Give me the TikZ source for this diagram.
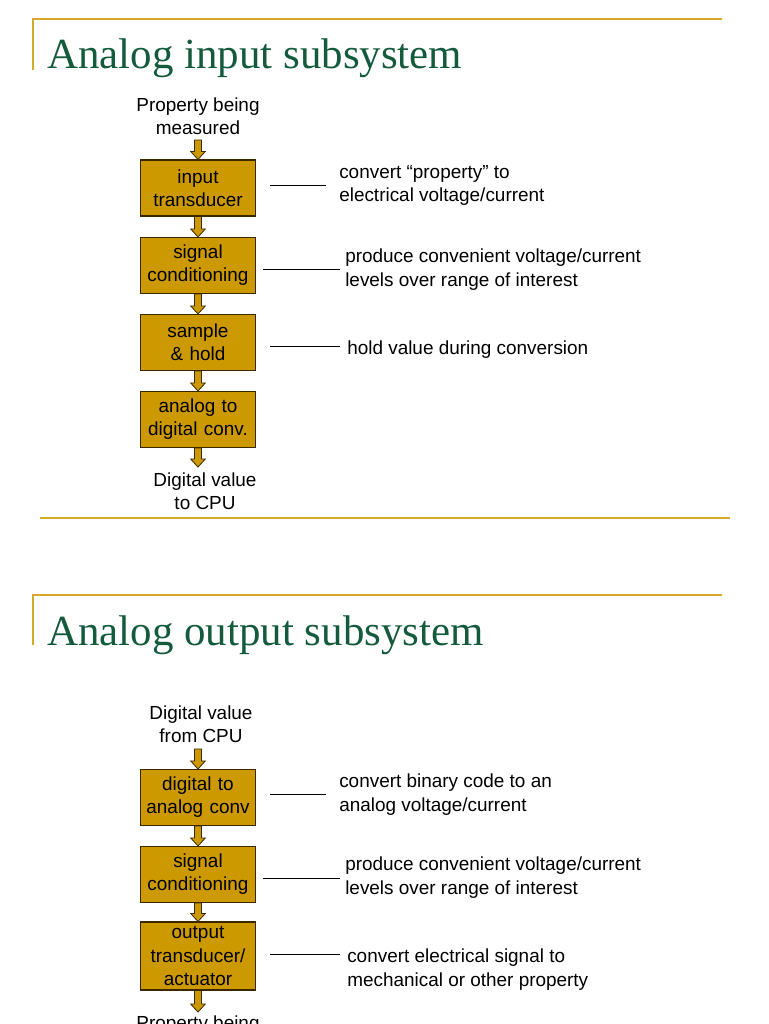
\documentclass[tikz,border=0pt]{standalone}
\usepackage{fontspec}
\setmainfont{Liberation Sans}
\newfontfamily\titlefont{Liberation Serif}
\usetikzlibrary{calc}
\definecolor{gold}{RGB}{204,153,0}
\definecolor{rule}{RGB}{214,170,40}
\definecolor{titlegreen}{RGB}{20,90,60}
\definecolor{edge}{RGB}{60,40,0}
\newcommand{\blockarrow}[2]{%
  \path let \p1=(#1), \p2=(#2) in
    [draw=edge, fill=gold, line width=0.6pt]
    (\x1-2.6pt,\y1) -- (\x1+2.6pt,\y1) -- (\x1+2.6pt,\y2+6pt) -- (\x1+5.5pt,\y2+6pt)
    -- (\x1,\y2) -- (\x1-5.5pt,\y2+6pt) -- (\x1-2.6pt,\y2+6pt) -- cycle;}
\begin{document}
\begin{tikzpicture}[x=0.75pt,y=-0.75pt,
  box/.style={draw=edge, fill=gold, line width=0.8pt, minimum width=86pt, text width=84pt, align=center, font=\fontsize{14.2}{17.3}\selectfont, inner sep=0pt},
  lbl/.style={anchor=north west, align=left, font=\fontsize{14.2}{17.3}\selectfont, inner sep=0pt},
  ctr/.style={align=center, font=\fontsize{14.2}{17.3}\selectfont, inner sep=0pt},
  title/.style={anchor=base west, text=titlegreen, font=\titlefont\fontsize{32.2}{32}\selectfont, inner sep=0pt},
  rl/.style={draw=rule, line width=1.2pt},
  tick/.style={draw=black, line width=0.6pt}]
\useasboundingbox (0,0) rectangle (768,1024);
% frames
\draw[rl] (33,70) -- (33,19) -- (722,19);
\draw[rl] (40,518) -- (730,518);
\draw[rl] (33,645) -- (33,595) -- (722,595);
\node[title] (t1) at (47,69) {Analog input subsystem};
\node[title] (t2) at (47,645) {Analog output subsystem};
% input chain
\node[ctr] (p1) at (198,116) {Property being\\measured};
\coordinate (p1s) at (198,140);
\node[box, minimum height=42pt] (b1) at (198,188) {input\\transducer};
\node[box, minimum height=42pt] (b2) at (198,265.5) {signal\\conditioning};
\node[box, minimum height=42pt] (b3) at (198,342.5) {sample\\\& hold};
\node[box, minimum height=42pt] (b4) at (198,419.5) {analog to\\digital conv.};
\coordinate (d1n) at (198,467);
\node[ctr] (d1) at (205,491) {Digital value\\to CPU};
\blockarrow{p1s}{b1.north}
\blockarrow{b1.south}{b2.north}
\blockarrow{b2.south}{b3.north}
\blockarrow{b3.south}{b4.north}
\blockarrow{b4.south}{d1n}
\coordinate (l1a) at (270,185); \coordinate (l1b) at (326,185);
\coordinate (l2a) at (263,269); \coordinate (l2b) at (340,269);
\coordinate (l3a) at (270,346); \coordinate (l3b) at (340,346);
\draw[tick] (l1a) -- (l1b); \draw[tick] (l2a) -- (l2b); \draw[tick] (l3a) -- (l3b);
\node[lbl] (c1) at (339,165) {convert “property” to\\electrical voltage/current};
\node[lbl] (c2) at (345,249) {produce convenient voltage/current\\levels over range of interest};
\node[lbl] (c3) at (347,341) {hold value during conversion};
% output chain
\node[ctr] (q1) at (201,724) {Digital value\\from CPU};
\coordinate (q1s) at (198,749);
\node[box, minimum height=42pt] (o1) at (198,797.5) {digital to\\analog conv};
\node[box, minimum height=42pt] (o2) at (198,874.5) {signal\\conditioning};
\node[box, minimum height=51pt] (o3) at (198,956) {output\\transducer/\\actuator};
\coordinate (q2n) at (198,1012);
\node[ctr, anchor=north] (q2) at (198,1016) {Property being};
\blockarrow{q1s}{o1.north}
\blockarrow{o1.south}{o2.north}
\blockarrow{o2.south}{o3.north}
\blockarrow{o3.south}{q2n}
\coordinate (m1a) at (270,794); \coordinate (m1b) at (326,794);
\coordinate (m2a) at (263,878); \coordinate (m2b) at (340,878);
\coordinate (m3a) at (270,954); \coordinate (m3b) at (340,954);
\draw[tick] (m1a) -- (m1b); \draw[tick] (m2a) -- (m2b); \draw[tick] (m3a) -- (m3b);
\node[lbl] (e1) at (339,774) {convert binary code to an\\analog voltage/current};
\node[lbl] (e2) at (345,857) {produce convenient voltage/current\\levels over range of interest};
\node[lbl] (e3) at (347,949) {convert electrical signal to\\mechanical or other property};
\end{tikzpicture}
\end{document}
